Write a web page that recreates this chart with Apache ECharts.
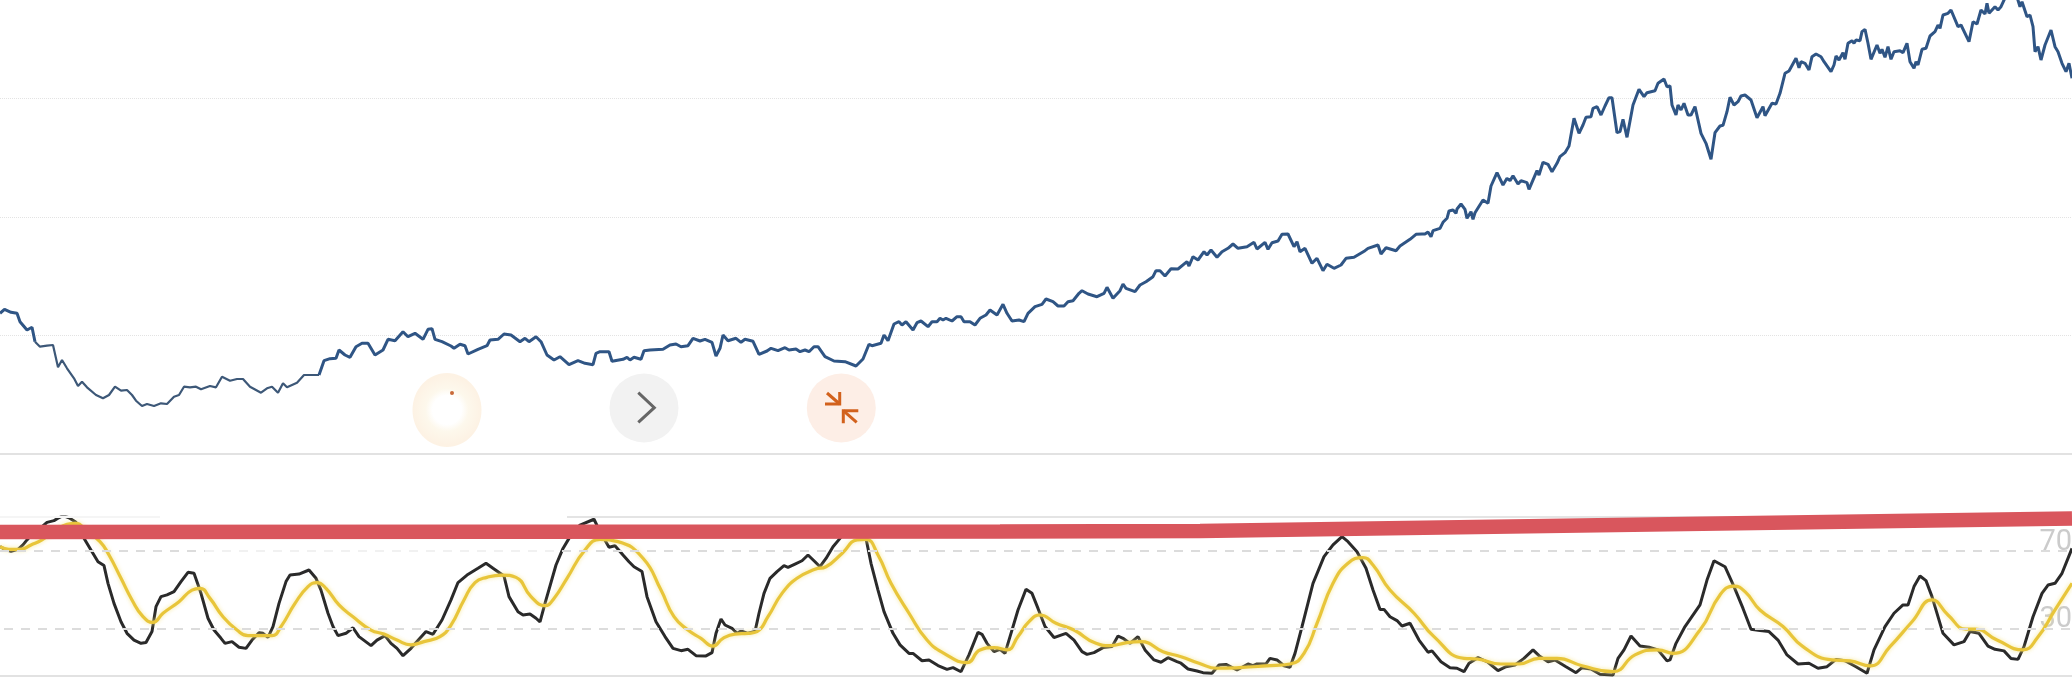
<!DOCTYPE html>
<html><head><meta charset="utf-8">
<style>html,body{margin:0;padding:0;background:#fff}#c{width:2072px;height:680px}</style>
<script src="https://cdn.jsdelivr.net/npm/echarts@6/dist/echarts.min.js"></script>
</head><body><div id="c"></div>
<script>
const priceStep=118.5;
const rsiLevels=[30,70];
const priceReadings=[[0,140.7],[4.5,144.7],[11,141.7],[17,140.7],[20,132.3],[22,134],[27,124],[32,126.7],[35,112.3],[40,107.3],[47,108.3],[53,109],[58,86.7],[62,94],[67,85.7],[74,75.7],[78,68],[82,72.3],[87,66.7],[96,59],[103,55.7],[109,59],[115,67.3],[121,63.3],[127,64],[132,59],[136,53.3],[142,48],[147,50],[154,48],[161,50.7],[167,50],[174,57.3],[179,59],[184,67.3],[190,66.7],[196,67.3],[201,64.7],[210,68],[216,66.7],[222,77.3],[230,73.3],[237,75],[243,75],[250,67.3],[261,61.3],[267,65.7],[272,67.3],[278,61.3],[283,70.7],[287,66.7],[297,71.3],[304,79],[313,79],[319,79],[324,93.3],[330,95.3],[336,95.7],[339,104],[345,99],[350,96.7],[356,107.3],[362,110.7],[368,110.7],[375,99],[383,104],[388,114.7],[395,113.3],[403,122.3],[408,117.3],[415,120.7],[423,114.7],[428,124.7],[432,125.3],[435,114.7],[442,112.3],[451,108],[454,105.7],[460,109.7],[465,108.3],[468,100],[478,104.7],[487,108.3],[490,114],[498,114.7],[504,120],[511,119],[520,112.3],[525,115.7],[529,112.3],[536,117.3],[541,112.3],[547,99],[554,94],[560,97.3],[569,89.3],[578,93.3],[585,90.7],[593,89.3],[596,100.7],[600,102.3],[609,102.3],[612,92.7],[623,94.7],[627,96.7],[630,94],[634,96.7],[641,94.7],[644,103.3],[650,104],[663,104.7],[670,109],[676,110],[681,107.3],[688,108.3],[693,115.7],
[700,113],[705,114.7],[712,111.7],[716,98],[720,105.7],[723,119],[728,113.3],[736,115.7],[741,111.7],[745,114.7],[753,112.7],[759,99.7],[767,103],[771,105.7],[778,103.3],[785,106.3],[789,104],[796,105],[800,102.3],[805,104],[809,102.3],[814,107.3],[818,107.3],[825,97.3],[834,93],[845,92.3],[856,88],[863,95],[869,109.7],[872,108.3],[881,110.7],[884,119],[888,113.3],[894,130],[899,132.3],[902,129],[906,132.3],[913,124],[917,131.3],[921,133],[928,127.3],[932,132.3],[937,132.3],[940,135.7],[943,134],[946,135.7],[952,133],[957,137.3],[961,137.3],[964,132.3],[970,132.3],[975,129],[980,135.7],[986,139],[990,144],[997,139],[1003,149.7],[1007,140.7],[1012,133],[1019,134],[1024,132.3],[1028,140.7],[1035,147.3],[1042,149.7],[1046,155],[1053,152.3],[1058,148],[1064,148],[1068,152.3],[1073,153.3],[1079,160.7],[1082,163.3],[1088,160],[1097,157.3],[1104,160.7],[1107,166.7],[1113,155.7],[1120,163.3],[1123,170],[1126,165.7],[1135,162.3],[1140,169],[1146,172.3],[1153,177.3],[1156,183.3],[1160,183.3],[1165,178],[1171,185.3],[1178,185],[1187,192.3],[1189,188],[1193,197.3],[1198,194],[1204,202.3],[1207,199],[1211,204],[1217,196.7],[1222,202.3],[1228,205.7],[1233,210],[1238,205.7],[1247,207.3],[1254,211.7],[1257,205],[1265,211.7],[1268,204.7],[1272,211.3],[1278,213],[1282,219.7],[1288,220],[1294,207.3],[1297,212.3],[1300,202.3],[1305,205.7],[1312,190.7],[1317,195.7],[1323,183.3],[1327,189.7],[1334,185.7],[1341,189],[1346,195.7],[1354,196.7],[1365,203.3],[1368,205.7],[1378,209],[1381,200],[1386,206.3],[1396,203.3],[1400,208],
[1410,214.7],[1416,219.7],[1422,220],[1425,220],[1428,222],[1431,217.3],[1433,223.3],[1440,225.7],[1443,231.7],[1447,235.7],[1449,243],[1453,244],[1456,240.7],[1457,245],[1461,250],[1465,244.7],[1467,235.7],[1471,242.3],[1473,234.7],[1475,241.3],[1477,242.3],[1483,254],[1488,250.7],[1491,268],[1497,281.3],[1503,269],[1507,275.7],[1510,273.3],[1513,278.3],[1518,270],[1521,273.3],[1527,271.3],[1529,264.7],[1537,283.3],[1539,279],[1543,291.7],[1548,289.7],[1552,282.3],[1557,290.7],[1560,297.3],[1565,301.3],[1569,308],[1574,335.7],[1579,320.7],[1583,329],[1586,336.7],[1591,337.3],[1593,345.7],[1597,347.3],[1601,339],[1605,348],[1609,356.3],[1612,356.3],[1617,321.3],[1620,322.3],[1623,334.7],[1627,316.7],[1633,349],[1639,364.7],[1644,357.3],[1647,361.3],[1655,363.3],[1658,370.7],[1664,375],[1667,367.3],[1670,368],[1672,349],[1676,339],[1678,349],[1681,344],[1684,350.7],[1688,339],[1691,339],[1695,347.3],[1701,320.7],[1706,310.7],[1708,310],[1711,294.7],[1715,321.3],[1720,328],[1723,328.7],[1727,342.3],[1730,356.7],[1734,349],[1738,352.3],[1741,358],[1745,359],[1751,354],[1757,336.3],[1763,347.3],[1765,338.3],[1772,350.7],[1776,350],[1780,360.7],[1785,380.7],[1789,383],[1796,395.7],[1799,386.3],[1801,392.3],[1805,390.7],[1809,384],[1812,397.3],[1816,400],[1821,397.3],[1824,392.3],[1826,394],[1831,382.3],[1834,389],[1836,398],[1839,394],[1843,401.3],[1845,394.7],[1848,410.7],[1852,413.3],[1854,410.7],[1856,414],[1860,413.3],[1862,422.3],[1865,424.7],[1868,410.7],[1871,394.7],[1877,409],[1880,400.7],[1882,404.7],[1885,396.7],[1888,407.3],[1891,394.7],[1894,402.3],[1900,403.3],[1903,401.3],[1907,410.7],[1910,392.3],[1914,385.7],[1916,392.3],[1918,389],[1922,404.7],[1926,405.7],[1930,418],[1935,422.3],[1938,429],[1940,425.7],[1943,439],[1948,440.7],[1951,444],[1958,427.3],[1961,429],[1969,412.3],[1973,432.3],[1977,430],[1981,444],[1985,440],[1987,450.7],[1989,440.7],[1995,447.3],[1998,444],[2001,447.3],[2005,456],[2010,462],[2017,457],[2020,447.3],[2022,452.3],[2027,437.3],[2030,439],[2033,427.3],[2035,402.3],[2038,407.3],[2041,394],[2045,409],[2051,424],[2055,407.3],[2058,402.3],[2062,390.7],[2066,382.3],[2069,390.7],[2072,375.7]];
const rsiReadings=[[0,72.3],[5,70.9],[11,69.9],[18,70.9],[23,73.2],[27,75.8],[33,79.2],[40,81.8],[47,84.9],[54,85.8],[58,87],[63,88.4],[69,87.3],[76,84.9],[80,80.1],[85,75.8],[92,69.7],[98,64.5],[104,62.5],[108,53.3],[114,42.9],[121,33.4],[127,27.4],[134,23.9],[141,22.2],[146,22.6],[152,28.3],[156,41.2],[161,46.4],[167,47.3],[174,49],[181,54.2],[188,59],[194,58.5],[201,48.1],[208,35.2],[214,29.1],[221,24.8],[225,22.2],[232,23.1],[239,20.2],[246,19.6],[252,23.9],[259,27.7],[263,27.4],[268,25.3],[273,30.9],[279,42.9],[286,54.2],[290,57.6],[299,58.1],[309,60.2],[316,55.9],[321,49.8],[328,37.8],[333,30.9],[338,26.2],[346,27.4],[353,30.3],[359,25.7],[371,21],[377,23.9],[385,26.2],[391,22.2],[397,19.6],[403,15.8],[411,19.6],[417,23.1],[426,28.3],[433,26.9],[442,34.3],[451,44.7],[458,53.7],[467,57.6],[478,61.1],[486,63.7],[493,61.1],[504,57.1],[509,46.4],[518,38.6],[523,36.9],[530,37.4],[536,35.2],[540,33.3],[545,42.9],[556,62.8],[563,71.4],[569,76.6],[580,83.5],[594,86.5],[600,80.1],[609,72],[615,72.8],[623,68],[629,64.5],[634,61.9],[642,59.4],[647,46.4],[656,33.4],[665,25.7],[673,19.6],[681,18.4],[688,19.1],[696,15.8],
[706,15.7],[712,17.4],[716,27.4],[721,34.8],[725,31.7],[732,30],[737,27.4],[741,28.6],[748,27.4],[755,28.3],[759,37.8],[764,48.1],[770,55.9],[777,59.4],[784,62.5],[788,61.6],[795,63.3],[802,65],[808,68],[815,64.5],[820,61.9],[826,66.2],[833,72.3],[840,76.6],[846,80.1],[853,82.3],[860,82.7],[866,76.6],[871,63.7],[878,49.8],[884,38.6],[893,27.4],[900,21.4],[909,17],[913,17],[922,13.2],[929,13.6],[938,10.7],[947,8.7],[953,9.6],[961,7.5],[969,16.2],[978,27.9],[982,26.9],[987,22.2],[994,17.9],[1000,19.1],[1005,17],[1011,27.4],[1018,39.5],[1026,50.2],[1032,48.1],[1038,40.3],[1045,30.9],[1054,25.2],[1061,26.5],[1066,27.4],[1074,23.9],[1082,17.9],[1087,16.5],[1094,17.4],[1103,20],[1112,20.5],[1118,26],[1123,24.8],[1130,22.2],[1138,25.7],[1145,18.8],[1154,13.6],[1161,12.4],[1168,14.8],[1177,12.7],[1181,11.9],[1188,8.9],[1197,7.9],[1203,7],[1212,6.7],[1219,11],[1226,11.3],[1237,8.4],[1248,11.5],[1253,10.6],[1257,11.5],[1266,11.5],[1270,14.4],[1277,13.6],[1284,10.6],[1290,9.8],[1295,17],[1302,30.9],[1313,53.3],[1324,67.1],[1333,73.2],[1342,77.5],[1348,74.9],[1357,69.7],[1366,61.1],[1373,49.8],[1380,39.8],[1384,39.8],[1390,36],
[1397,34],[1402,31.2],[1410,32.6],[1419,23.9],[1428,17.6],[1432,18.3],[1441,12.7],[1450,9.6],[1457,9.3],[1464,7.5],[1469,11.9],[1478,14.8],[1488,12.4],[1498,8.1],[1506,10.1],[1515,11],[1524,14.4],[1533,18.8],[1539,15.8],[1548,12.7],[1555,13.6],[1566,10.1],[1576,7],[1582,9.6],[1591,8.9],[1600,6.2],[1613,5.8],[1618,14.4],[1624,18.8],[1631,26],[1640,20.8],[1649,20.2],[1658,18.8],[1667,13.1],[1670,13.6],[1676,22.2],[1685,30.9],[1700,42.1],[1707,55],[1714,65],[1725,61.9],[1734,51.6],[1743,40.3],[1751,29.5],[1760,28.8],[1769,28.3],[1778,23.9],[1787,16.2],[1798,11.5],[1809,11.9],[1818,9.3],[1827,10.1],[1836,13.9],[1845,13.2],[1856,10.1],[1867,6.7],[1874,18.8],[1885,30.9],[1894,37.8],[1903,42.1],[1908,42.1],[1914,51.6],[1920,57.1],[1926,54.7],[1932,46.4],[1943,27.4],[1954,21.4],[1964,23.1],[1970,28.3],[1979,27.4],[1988,20.8],[1995,19.1],[2004,18.3],[2011,14.4],[2018,13.9],[2024,20.5],[2033,36],[2042,48.1],[2048,52.4],[2055,53.3],[2062,58.5],[2072,71.4]];
const signalReadings=[[0,72.3],[9,70.9],[20,70.9],[31,73.2],[42,75.8],[54,80.1],[67,83.9],[76,84.4],[87,80.1],[100,74.9],[109,68],[121,55.9],[132,44.7],[143,36],[153,33.1],[163,37.8],[179,43.8],[192,49.8],[200,50.7],[210,45.5],[223,36],[237,29.1],[248,26.2],[259,26.2],[272,26.2],[281,30.9],[295,42.9],[308,51.6],[317,53.7],[326,50.7],[339,42.1],[353,36],[371,29.1],[384,27],[397,23.9],[411,21.4],[424,23.1],[440,25.7],[451,31.7],[464,44.7],[475,53.7],[487,56.4],[502,57.6],[516,56.4],[531,46.4],[545,41.7],[554,45.5],[567,55.9],[585,70.6],[600,76.1],[618,74.9],[643,66.3],[661,49.8],[674,36],[688,29.1],[701,24.8],[713,20.8],[723,24.8],[735,27],[748,27.4],[757,28.3],[768,36],[782,48.1],[797,55.9],[815,60.6],[826,61.9],[842,68.8],[857,75.8],[866,76.1],[878,68],[891,53.3],[909,37.8],[927,23.9],[944,17],[967,12.2],[980,18.8],[994,20],[1007,18.8],[1018,25.7],[1029,33.4],[1040,36.9],[1056,32.6],[1074,29.1],[1096,22.2],[1110,21],[1127,22.6],[1141,23.1],[1163,17.9],[1181,15.3],[1199,11.9],[1217,9.3],[1239,9.6],[1266,10.5],[1290,11.5],[1304,17],[1317,32.6],[1333,53.3],[1348,63.7],[1363,66.6],[1373,62.8],[1390,49.8],[1414,37.8],[1434,25.7],[1464,14.4],[1477,14.1],[1501,11.5],[1519,11.5],[1539,14.4],[1557,14.4],[1582,10.6],[1613,7.5],[1635,16.2],[1658,18.8],[1673,17],[1700,29.1],[1720,47.3],[1734,51.9],[1745,49],[1760,39.5],[1783,30.9],[1803,20.5],[1832,13.6],[1850,13.1],[1870,10.5],[1890,20.5],[1912,33.4],[1932,44.7],[1948,36.9],[1966,29.6],[1975,29.6],[1997,23.9],[2023,18.8],[2037,24.8],[2055,39.5],[2072,53.3]];
const bandReadings=[[0,79.9],[1000,80.2],[1200,80.4],[1372,81.7],[1720,84.3],[2072,86.9]];

const inFaded=p=>p[0]>=35&&p[0]<=322;
const chart=echarts.init(document.getElementById('c'),null,{renderer:'canvas'});
const seg=(x0,x1,y,color,type,w)=>[{coord:[x0,y],lineStyle:{color,type,width:w}},{coord:[x1,y]}];
const dash=[9,8];
chart.setOption({
 animation:false,backgroundColor:'#fff',
 grid:[{left:0,right:0,top:-20,height:474,outerBoundsMode:'none'},{left:0,right:0,top:517,height:159,outerBoundsMode:'none'}],
 xAxis:[
  {gridIndex:0,type:'value',min:0,max:2072,splitLine:{show:false},axisTick:{show:false},axisLabel:{show:false},axisLine:{show:true,onZero:false,lineStyle:{color:'#e2e2e2',width:2}}},
  {gridIndex:1,type:'value',min:0,max:2072,splitLine:{show:false},axisTick:{show:false},axisLabel:{show:false},axisLine:{show:true,onZero:false,lineStyle:{color:'#e2e2e2',width:2}}}
 ],
 yAxis:[
  {gridIndex:0,type:'value',min:0,max:474,interval:priceStep,axisLine:{show:false},axisTick:{show:false},axisLabel:{show:false},splitLine:{show:true,lineStyle:{color:'#e3e3e3',type:'dotted',width:1}}},
  {gridIndex:1,type:'value',position:'right',min:5.28,max:87.67,axisLine:{show:false},axisTick:{show:false},splitLine:{show:false},
   axisLabel:{customValues:rsiLevels,inside:true,margin:0,fontFamily:'Roboto',fontSize:29,color:'#cbcbcb',verticalAlign:'bottom',lineHeight:17}}
 ],
 series:[
  {name:'frame',type:'line',xAxisIndex:1,yAxisIndex:1,data:[],symbol:'none',z:1,
   markLine:{silent:true,symbol:'none',label:{show:false},animation:false,data:[
    seg(0,205,70,'#dcdcdc',dash,2),seg(205,562,70,'#f1f1f1',dash,2),seg(562,2072,70,'#dcdcdc',dash,2),
    seg(4,2072,30,'#dcdcdc',dash,2),
    seg(0,160,87.67,'#f5f5f5','solid',2),seg(567,2072,87.67,'#e4e4e4','solid',2)]}},
  {name:'price',type:'line',xAxisIndex:0,yAxisIndex:0,data:priceReadings.filter(p=>p[0]<=35),symbol:'none',lineStyle:{color:'#2f5585',width:3},z:3},
  {name:'price-faded',type:'line',xAxisIndex:0,yAxisIndex:0,data:priceReadings.filter(inFaded),symbol:'none',lineStyle:{color:'#3d5878',width:2.2},z:3},
  {name:'price-rest',type:'line',xAxisIndex:0,yAxisIndex:0,data:priceReadings.filter(p=>p[0]>=319),symbol:'none',lineStyle:{color:'#2f5585',width:3},z:3},
  {name:'RSI',type:'line',xAxisIndex:1,yAxisIndex:1,data:rsiReadings,symbol:'none',lineStyle:{color:'#2a2a2a',width:3},z:3},
  {name:'signal',type:'line',xAxisIndex:1,yAxisIndex:1,data:signalReadings,symbol:'none',smooth:0.5,lineStyle:{color:'#e8c53a',width:3.2,shadowColor:'rgba(245,228,130,.8)',shadowBlur:4},z:4},
  {name:'band',type:'line',xAxisIndex:1,yAxisIndex:1,data:bandReadings,symbol:'none',clip:false,lineStyle:{color:'#d9565d',width:14.5,cap:'butt'},z:6}
 ],
 graphic:[
  {type:'ellipse',z:7,shape:{cx:447,cy:410,rx:34.5,ry:37},style:{fill:{type:'radial',x:0.5,y:0.5,r:0.5,colorStops:[{offset:0,color:'#ffffff'},{offset:0.42,color:'#ffffff'},{offset:0.62,color:'#fdf8ec'},{offset:1,color:'#fdf2e4'}]}}},
  {type:'circle',z:8,shape:{cx:452,cy:393,r:2},style:{fill:'#c96a3a'}},
  {type:'circle',z:7,shape:{cx:644,cy:408,r:34.5},style:{fill:'#f2f2f2'}},
  {type:'polyline',z:8,shape:{points:[[638.3,392.7],[654.3,407.7],[638.3,422.3]]},style:{stroke:'#666',lineWidth:3,fill:'none'}},
  {type:'circle',z:7,shape:{cx:841.3,cy:408,r:34.5},style:{fill:'#fdeee6'}},
  {type:'polyline',z:8,shape:{points:[[825,404],[839.7,404],[839.7,392]]},style:{stroke:'#d2611c',lineWidth:3,fill:'none'}},
  {type:'line',z:8,shape:{x1:827,y1:393,x2:839.7,y2:404},style:{stroke:'#d2611c',lineWidth:3}},
  {type:'polyline',z:8,shape:{points:[[858.3,410.7],[843.3,410.7],[843.3,423.3]]},style:{stroke:'#d2611c',lineWidth:3,fill:'none'}},
  {type:'line',z:8,shape:{x1:843.3,y1:410.7,x2:856.7,y2:422.3},style:{stroke:'#d2611c',lineWidth:3}}
 ]
});
</script></body></html>
